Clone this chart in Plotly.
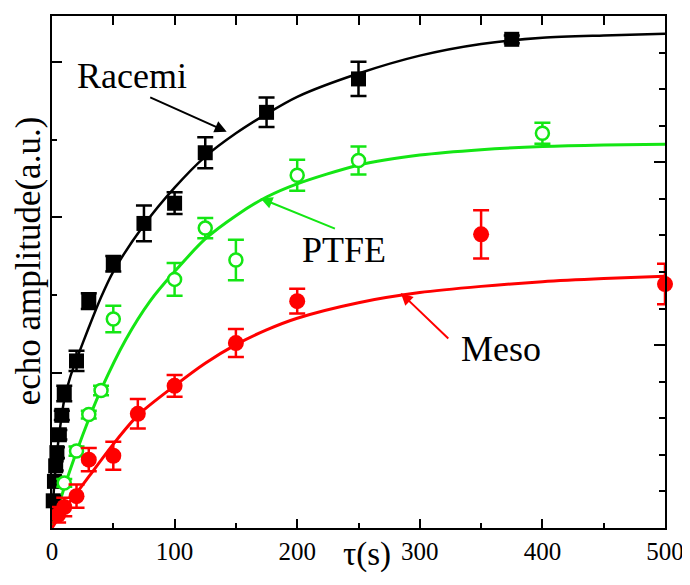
import plotly.graph_objects as go

# ---------------- data ----------------
# Racemi (black filled squares)
racemi_x = [1, 2, 3, 4, 6, 8, 10, 20, 30, 50, 75, 100, 125, 175, 250, 375]
racemi_y = [0.35, 0.60, 0.80, 0.97, 1.20, 1.45, 1.73, 2.15, 2.92, 3.40, 3.92, 4.18, 4.83, 5.35, 5.78, 6.29]
racemi_err = [0.06, 0.06, 0.06, 0.07, 0.06, 0.06, 0.10, 0.13, 0.10, 0.10, 0.23, 0.14, 0.20, 0.19, 0.22, 0.05]

# PTFE (green open circles)
ptfe_x = [10, 20, 30, 40, 50, 100, 125, 150, 200, 250, 400]
ptfe_y = [0.58, 0.99, 1.46, 1.77, 2.69, 3.20, 3.86, 3.45, 4.54, 4.73, 5.08]
ptfe_err = [0.05, 0.06, 0.05, 0.06, 0.17, 0.21, 0.13, 0.26, 0.20, 0.18, 0.135]

# Meso (red filled circles)
meso_x = [5, 10, 20, 30, 50, 70, 100, 150, 200, 350, 500]
meso_y = [0.17, 0.27, 0.41, 0.88, 0.93, 1.47, 1.83, 2.38, 2.92, 3.78, 3.14]
meso_err = [0.10, 0.12, 0.15, 0.15, 0.18, 0.19, 0.14, 0.18, 0.16, 0.31, 0.26]

# fitted curves
racemi_fit_x = [0, 1, 2, 4, 6, 10, 15, 20, 30, 40, 50, 75, 100, 125, 150, 175, 200, 250, 300, 350, 400, 450, 500]
racemi_fit_y = [0, 0.35, 0.60, 0.95, 1.22, 1.65, 1.95, 2.17, 2.58, 2.97, 3.30, 3.90, 4.38, 4.78, 5.08, 5.33, 5.55, 5.85, 6.08, 6.23, 6.31, 6.34, 6.36]

ptfe_fit_x = [0, 10, 20, 30, 40, 60, 80, 100, 125, 150, 175, 200, 250, 300, 350, 400, 450, 500]
ptfe_fit_y = [0, 0.52, 0.98, 1.40, 1.78, 2.42, 2.92, 3.30, 3.72, 4.02, 4.26, 4.43, 4.67, 4.80, 4.87, 4.91, 4.93, 4.94]

meso_fit_x = [0, 10, 20, 30, 50, 70, 100, 125, 150, 175, 200, 250, 300, 350, 400, 450, 500]
meso_fit_y = [0, 0.24, 0.45, 0.66, 1.08, 1.45, 1.83, 2.12, 2.36, 2.55, 2.70, 2.90, 3.03, 3.11, 3.17, 3.21, 3.24]

x_ticks = [0, 100, 200, 300, 400, 500]
x_tick_labels = ["0", "100", "200", "300", "400", "500"]

BLACK = "#000000"
GREEN = "#14e614"
RED = "#ff0000"
FONT = "Liberation Serif"

fig = go.Figure()

# curves
for fx, fy, col, w in [(racemi_fit_x, racemi_fit_y, BLACK, 2.5),
                       (ptfe_fit_x, ptfe_fit_y, GREEN, 3),
                       (meso_fit_x, meso_fit_y, RED, 3)]:
    fig.add_trace(go.Scatter(x=fx, y=fy, mode="lines",
                             line=dict(color=col, width=w, shape="spline", smoothing=0.8),
                             showlegend=False, hoverinfo="skip", cliponaxis=False))

# data points
fig.add_trace(go.Scatter(
    x=racemi_x, y=racemi_y, mode="markers", name="Racemi",
    marker=dict(symbol="square", size=15, color=BLACK),
    error_y=dict(type="data", array=racemi_err, color=BLACK, thickness=2.5, width=8),
    showlegend=False, cliponaxis=False))

fig.add_trace(go.Scatter(
    x=ptfe_x, y=ptfe_y, mode="markers", name="PTFE",
    marker=dict(symbol="circle", size=13, color="white", line=dict(color=GREEN, width=2.5)),
    error_y=dict(type="data", array=ptfe_err, color=GREEN, thickness=2.5, width=8),
    showlegend=False, cliponaxis=False))

fig.add_trace(go.Scatter(
    x=meso_x, y=meso_y, mode="markers", name="Meso",
    marker=dict(symbol="circle", size=16, color=RED),
    error_y=dict(type="data", array=meso_err, color=RED, thickness=2.5, width=8),
    showlegend=False, cliponaxis=False))

# invisible trace for secondary (tick-only) axes
fig.add_trace(go.Scatter(x=[None], y=[None], xaxis="x2", yaxis="y2",
                         showlegend=False, hoverinfo="skip"))

# figure placed inside the page's default 8px body margin
fig.update_layout(
    width=682, height=569,
    margin=dict(l=44, r=21, t=6, b=49),
    paper_bgcolor="white", plot_bgcolor="white",
    font=dict(family=FONT, color="black", size=25),
    xaxis=dict(range=[0, 500], tickmode="array", tickvals=x_ticks, ticktext=x_tick_labels,
               ticks="inside", ticklen=9, tickwidth=1.5, tickcolor="black",
               minor=dict(dtick=50, ticks="inside", ticklen=5, tickwidth=1.5, tickcolor="black"),
               showline=True, linecolor="black", linewidth=2, mirror=True,
               showgrid=False, zeroline=False,
               tickfont=dict(family=FONT, size=25, color="black")),
    yaxis=dict(range=[0, 6.59], dtick=2, tick0=0,
               ticks="inside", ticklen=10, tickwidth=1.5, tickcolor="black",
               minor=dict(dtick=1, ticks="inside", ticklen=5, tickwidth=1.5, tickcolor="black"),
               showticklabels=False,
               showline=True, linecolor="black", linewidth=2, mirror=True,
               showgrid=False, zeroline=False),
    xaxis2=dict(overlaying="x", side="top", range=[0, 500], dtick=50, tick0=0,
                ticks="inside", ticklen=9, tickwidth=1.5, tickcolor="black",
                showticklabels=False, showline=False, showgrid=False, zeroline=False),
    yaxis2=dict(overlaying="y", side="right", range=[0, 14], dtick=5, tick0=0,
                ticks="inside", ticklen=11, tickwidth=1.5, tickcolor="black",
                minor=dict(dtick=1, ticks="inside", ticklen=6, tickwidth=1.5, tickcolor="black"),
                showticklabels=False, showline=False, showgrid=False, zeroline=False),
)

LBL = 36
annotations = [
    # axis titles
    dict(text="echo amplitude(a.u.)", xref="paper", yref="paper", x=-0.039, y=0.521,
         textangle=-90, showarrow=False, font=dict(family=FONT, size=35, color="black"),
         xanchor="center", yanchor="middle"),
    dict(text="τ(s)", xref="paper", yref="paper", x=0.514, y=-0.092,
         showarrow=False, font=dict(family=FONT, size=33, color="black"),
         xanchor="center", yanchor="bottom"),
    # labels
    dict(text="Racemi", xref="paper", yref="paper", x=0.131, y=0.883, showarrow=False,
         font=dict(family=FONT, size=LBL, color="black"), xanchor="center", yanchor="middle"),
    dict(text="PTFE", xref="paper", yref="paper", x=0.476, y=0.543, showarrow=False,
         font=dict(family=FONT, size=LBL, color="black"), xanchor="center", yanchor="middle"),
    dict(text="Meso", xref="paper", yref="paper", x=0.733, y=0.350, showarrow=False,
         font=dict(family=FONT, size=LBL, color="black"), xanchor="center", yanchor="middle"),
    # arrows
    dict(text="", xref="paper", yref="paper", x=0.285, y=0.774, ax=-78, ay=-35,
         showarrow=True, arrowhead=2, arrowsize=1.2, arrowwidth=2, arrowcolor=BLACK),
    dict(text="", xref="paper", yref="paper", x=0.340, y=0.644, ax=76, ay=31,
         showarrow=True, arrowhead=2, arrowsize=1.2, arrowwidth=2, arrowcolor=GREEN),
    dict(text="", xref="paper", yref="paper", x=0.569, y=0.459, ax=49, ay=47,
         showarrow=True, arrowhead=2, arrowsize=1.2, arrowwidth=2, arrowcolor=RED),
]
fig.update_layout(annotations=annotations)

fig.write_html("out.html")
